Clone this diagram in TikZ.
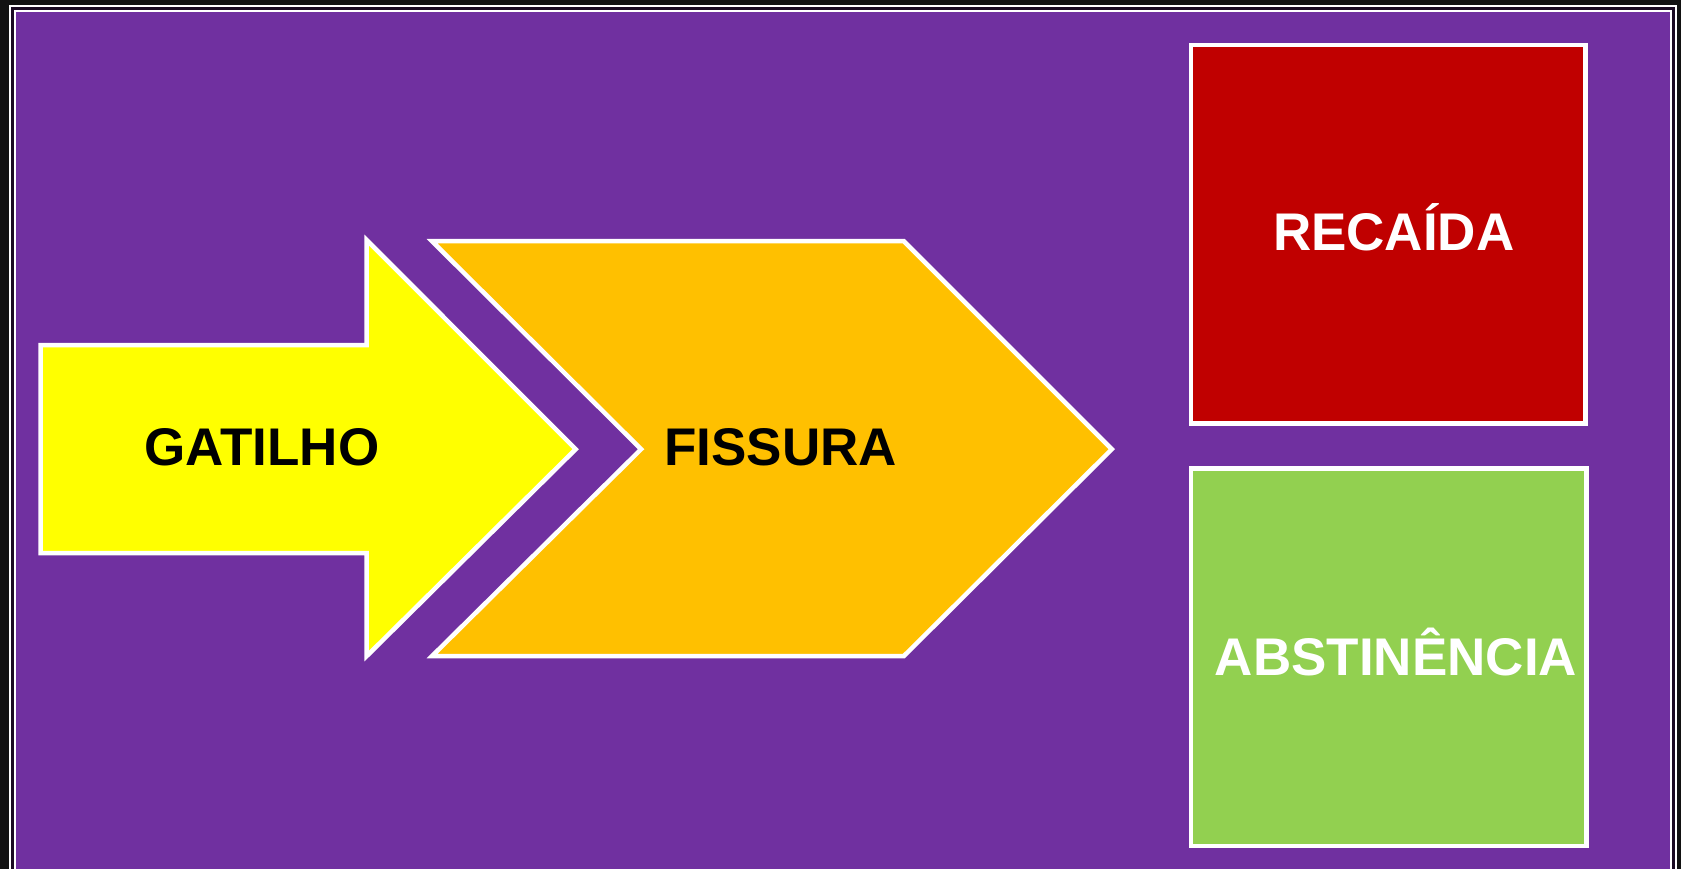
\documentclass[tikz,border=0pt]{standalone}
\usepackage{fontspec}
\setmainfont{Liberation Sans}
\definecolor{bgpurple}{HTML}{7030A0}
\definecolor{ayellow}{HTML}{FFFF00}
\definecolor{aorange}{HTML}{FFC000}
\definecolor{bred}{HTML}{C00000}
\definecolor{bgreen}{HTML}{92D050}
\definecolor{framedark}{HTML}{1A0A22}
\tikzset{
  shapeline/.style={draw=white, line width=4.5pt, line join=miter},
  labeltext/.style={font=\fontsize{53}{60}\selectfont\bfseries, inner sep=0pt, anchor=base},
}
\begin{document}
\begin{tikzpicture}[x=1pt,y=-1pt]
\useasboundingbox (0,0) rectangle (1681,869);
% background and frame
\fill[black!93] (0,0) rectangle (1681,869);
\fill[framedark] (10,6.5) rectangle (1676,875);
\draw[white, line width=2pt] (10,880) -- (10,6.5) -- (1676,6.5) -- (1676,880);
\fill[bgpurple] (14.5,11.5) rectangle (1670.5,875);
\draw[white, line width=2pt] (14.5,880) -- (14.5,11.5) -- (1670.5,11.5) -- (1670.5,880);
% yellow arrow
\draw[shapeline, fill=ayellow] (40.7,345.2) -- (366.7,345.2) -- (366.7,240.1) -- (575.7,449.2) -- (366.7,656.1) -- (366.7,553.2) -- (40.7,553.2) -- cycle;
% orange chevron
\draw[shapeline, fill=aorange] (432,241.2) -- (903.8,241.2) -- (1111.8,449.2) -- (903.8,656.1) -- (432,656.1) -- (641.1,449.2) -- cycle;
% boxes
\draw[shapeline, fill=bred] (1191,45) rectangle (1585.6,423.5);
\draw[shapeline, fill=bgreen] (1191,468.5) rectangle (1586.7,845.9);
% labels
\node[labeltext, text=black] (gatilho) at (262,465) {GATILHO};
\node[labeltext, text=black] (fissura) at (780.5,465) {FISSURA};
\node[labeltext, text=white] (recaida) at (1393.8,251) {RECAÍDA};
\node[labeltext, text=white] (abstinencia) at (1396,675) {ABSTINÊNCIA};
\end{tikzpicture}
\end{document}
